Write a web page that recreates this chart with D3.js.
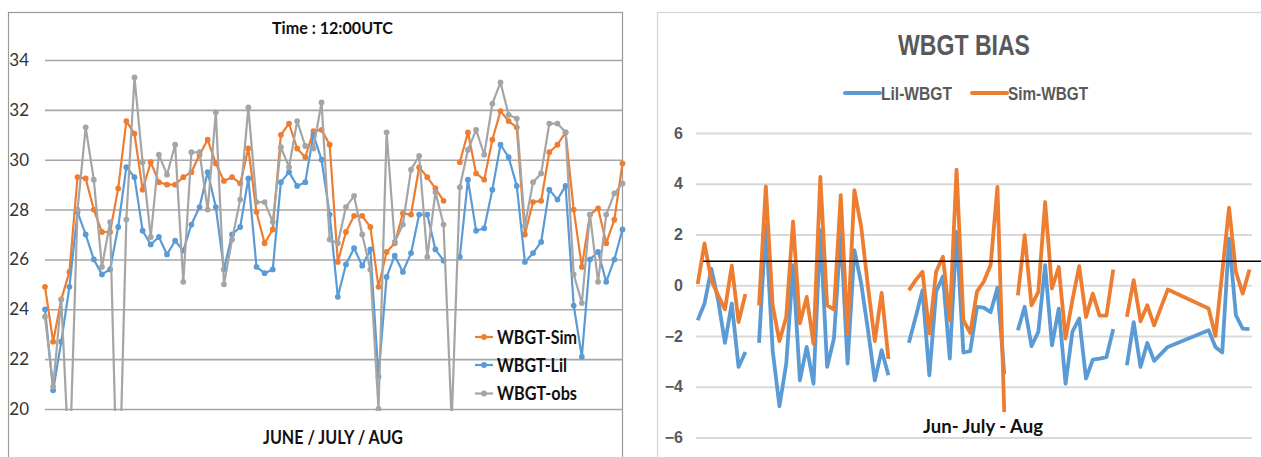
<!doctype html>
<html>
<head>
<meta charset="utf-8">
<script src="https://d3js.org/d3.v7.min.js"></script>
<style>
  body { margin: 0; background: #fff; }
  svg { display: block; }
</style>
</head>
<body>
<svg width="1261" height="457"></svg>
<script>
// ---- left chart: WBGT at 12:00UTC, one value per day ----
var simWbgt = [24.9, 22.7, 24.4, 25.5, 29.3, 29.25, 28.0, 27.1, 27.1, 28.85,
               31.55, 31.05, 28.8, 29.9, 29.1, 29.0, 29.0, 29.3, 29.5, 30.2,
               30.8, 29.85, 29.15, 29.3, 29.05, 30.45, 27.9, 26.65, 27.2, 31.0,
               31.45, 30.45, 30.1, 31.15, 31.2, 30.6, 25.9, 27.1, 27.75, 27.75,
               27.3, 24.9, 26.3, 26.65, 27.85, 27.8, 29.7, 29.3, 28.85, 28.35,
               null, 29.9, 31.1, 29.45, 29.2, 30.8, 31.95, 31.55, 31.3, 27.0,
               28.3, 28.35, 30.3, 30.6, 31.1, 28.0, 25.7, 27.8, 28.05, 26.65,
               27.6, 29.85];
var lilWbgt = [24.0, 20.75, 22.7, 24.9, 27.9, 27.0, 26.0, 25.4, 25.6, 27.3,
               29.7, 29.3, 27.15, 26.6, 26.9, 26.2, 26.75, 26.35, 27.4, 28.1,
               29.5, 28.1, 25.6, 27.0, 27.3, 29.25, 25.7, 25.45, 25.6, 29.1,
               29.5, 28.95, 29.1, 31.0, 30.0, 27.8, 24.5, 25.8, 26.45, 25.75,
               26.4, 21.3, 25.3, 26.15, 25.5, 26.25, 27.8, 27.8, 26.4, 25.95,
               null, 26.1, 29.2, 27.15, 27.25, 28.8, 30.6, 30.1, 28.95, 25.9,
               26.25, 26.7, 28.8, 28.4, 28.95, 24.15, 22.1, 26.0, 26.3, 25.1,
               26.0, 27.2];
var obsWbgt = [23.7, 20.9, 24.4, 17.5, 28.0, 31.3, 29.2, 25.7, 27.5, 15.0,
               27.6, 33.3, 29.9, 26.9, 30.2, 29.4, 30.6, 25.1, 30.3, 30.3,
               28.0, 31.9, 25.0, 26.8, 28.4, 32.1, 28.3, 28.3, 27.5, 30.5,
               29.7, 31.55, 30.55, 30.45, 32.3, 26.8, 26.65, 28.1, 28.55, 27.0,
               25.6, 20.0, 31.1, 26.7, 27.4, 29.6, 30.15, 26.1, 28.7, 27.4,
               19.5, 28.9, 30.4, 31.2, 30.2, 32.25, 33.1, 31.8, 31.65, 27.35,
               29.1, 29.45, 31.45, 31.45, 31.1, 25.4, 24.25, 27.8, 25.1, 27.8,
               28.65, 29.05];
var wbgtTicks = [20, 22, 24, 26, 28, 30, 32, 34];
var wbgtNames = ["WBGT-Sim", "WBGT-Lil", "WBGT-obs"];

// ---- right chart: WBGT bias ----
var biasDay = [0, 1, 2, 3, 4, 5, 6, 7, 8, 9, 10, 11, 12, 13, 14, 15, 16, 17, 18, 19,
               20, 21, 22, 23, 24, 25, 26, 27, 28, 29, 30, 31, 32, 33, 34, 35, 36, 37, 38, 39,
               40, 41, 42, 43, 44, 45, 46, 47, 48, 49, 50, 51, 52, 53, 54, 55, 56, 57, 58, 59,
               60, 61, 62, 63, 64, 65, 66, 67, 69, 75, 76, 77, 78, 79, 80, 81];
var lilBias = [-1.38, -0.72, 0.65, -0.59, -2.27, -0.72, -3.22, -2.63, null, -2.27,
               2.37, -2.56, -4.77, -3.09, 0.79, -3.75, -2.43, -3.88, 2.17, -3.22,
               -2.1, 2.1, -3.09, 1.38, 0.07, -1.77, -3.75, -2.56, -3.55, null,
               null, -2.27, -1.25, -0.2, -3.55, -0.26, 0.35, -2.89, 2.1, -2.65,
               -2.6, -0.85, -0.88, -1.06, -0.1, -3.5, null, -1.77, -0.85, -2.4,
               -1.84, 0.79, -2.37, -0.92, -3.88, -1.84, -1.31, -3.68, -2.93, -2.89,
               -2.83, -1.73, null, -3.15, -1.45, -3.22, -2.27, -2.98, -2.43, -1.77,
               -2.43, -2.65, 1.84, -1.18, -1.71, -1.73];
var simBias = [0.05, 1.65, 0.2, -0.4, -0.95, 0.77, -1.45, -0.35, null, -0.79,
               3.9, -0.79, -2.2, -1.25, 2.52, -1.5, -0.46, -2.3, 4.27, -0.79,
               -0.96, 3.55, -1.9, 3.75, 2.3, -0.07, -2.2, -0.3, -2.9, null,
               null, -0.2, 0.2, 0.53, -1.9, 0.53, 1.12, -1.38, 4.56, -1.38,
               -1.88, -0.25, 0.15, 0.8, 3.88, -5.0, null, -0.4, 1.97, -0.79,
               -0.26, 3.28, -0.13, 0.72, -2.1, -0.59, 0.75, -1.25, -0.33, -1.2,
               -1.2, 0.62, null, -1.25, 0.2, -1.42, -0.79, -1.58, -0.17, -0.92,
               -2.0, 0.5, 3.06, 0.53, -0.33, 0.62];
var biasTicks = [-6, -4, -2, 0, 2, 4, 6];
var biasNames = ["Lil-WBGT", "Sim-WBGT"];
var biasRef = 0.95;

var blue = "#5b9bd5", orange = "#ed7d31", grey = "#a5a5a5";
var svg = d3.select("svg");

function fitText(sel, w) {
    sel.attr("textLength", w).attr("lengthAdjust", "spacingAndGlyphs");
}

// ================= LEFT =================
var xL = d3.scaleLinear().domain([0, simWbgt.length - 1]).range([45, 622.5]),
    yL = d3.scaleLinear().domain([20, 34]).range([409, 60]);

svg.append("rect")
   .attr("x", 8.5).attr("y", 12.5).attr("width", 614).attr("height", 470)
   .attr("fill", "none").attr("stroke", "#9a9a9a").attr("stroke-width", 1.2);

svg.append("defs").append("clipPath").attr("id", "clipL")
   .append("rect").attr("x", 40).attr("y", 20).attr("width", 590).attr("height", 391);

var gAxL = svg.append("g")
    .attr("transform", "translate(45,0)")
    .call(d3.axisLeft(yL).tickValues(wbgtTicks).tickSize(-577).tickPadding(16));
gAxL.select(".domain").remove();
gAxL.selectAll("line").attr("stroke", "#a6a6a6").attr("stroke-width", 1.6);
gAxL.selectAll("text")
    .attr("fill", "#333").style("font-family", "Lato, 'Open Sans', sans-serif")
    .style("font-size", "17px");

var lineL = d3.line()
    .defined(function(d) { return d != null; })
    .x(function(d, i) { return xL(i); })
    .y(function(d) { return yL(d); });

var plotL = svg.append("g").attr("clip-path", "url(#clipL)");
[[simWbgt, orange], [lilWbgt, blue], [obsWbgt, grey]].forEach(function(s) {
    plotL.append("path")
        .datum(s[0])
        .attr("fill", "none")
        .attr("stroke", s[1])
        .attr("stroke-width", 2.2)
        .attr("stroke-linejoin", "round")
        .attr("d", lineL);
    plotL.selectAll(null)
        .data(s[0].map(function(v, i) { return {v: v, i: i}; })
                  .filter(function(d) { return d.v != null; }))
        .enter().append("circle")
        .attr("cx", function(d) { return xL(d.i); })
        .attr("cy", function(d) { return yL(d.v); })
        .attr("r", 2.9)
        .attr("fill", s[1]);
});

svg.append("text")
   .attr("x", 272).attr("y", 33.5)
   .style("font-family", "Lato, 'Open Sans', sans-serif")
   .style("font-size", "17px").style("font-weight", "bold")
   .attr("fill", "#111")
   .text("Time : 12:00UTC")
   .call(fitText, 121);

svg.append("text")
   .attr("x", 263).attr("y", 443.5)
   .style("font-family", "Lato, 'Open Sans', sans-serif")
   .style("font-size", "18px").style("font-weight", "bold")
   .attr("fill", "#111")
   .text("JUNE / JULY / AUG")
   .call(fitText, 140);

var legL = svg.append("g");
[[orange, 337, 80], [blue, 365, 70], [grey, 393.5, 80]].forEach(function(e, k) {
    legL.append("line")
        .attr("x1", 475).attr("x2", 493).attr("y1", e[1]).attr("y2", e[1])
        .attr("stroke", e[0]).attr("stroke-width", 2.2);
    legL.append("circle").attr("cx", 484).attr("cy", e[1]).attr("r", 2.9).attr("fill", e[0]);
    legL.append("text")
        .attr("x", 497).attr("y", e[1] + 6.8)
        .style("font-family", "Lato, 'Open Sans', sans-serif")
        .style("font-size", "18px").style("font-weight", "bold")
        .attr("fill", "#111")
        .text(wbgtNames[k])
        .call(fitText, e[2]);
});

// ================= RIGHT =================
var xR = d3.scaleLinear().domain([0, 81]).range([697.7, 1249.5]),
    yR = d3.scaleLinear().domain([-6, 6]).range([437.5, 133]);

svg.append("rect")
   .attr("x", 657.5).attr("y", 12.5).attr("width", 620).attr("height", 470)
   .attr("fill", "none").attr("stroke", "#d6d6d6").attr("stroke-width", 1.2);

var gAxR = svg.append("g")
    .attr("transform", "translate(696,0)")
    .call(d3.axisLeft(yR).tickValues(biasTicks).tickSize(-556).tickPadding(13));
gAxR.select(".domain").remove();
gAxR.selectAll("line").attr("stroke", "#d9d9d9").attr("stroke-width", 2);
gAxR.selectAll("text")
    .attr("fill", "#595959").style("font-family", "'Liberation Sans', Arial, sans-serif")
    .style("font-size", "16px").style("font-weight", "bold");

var lineR = d3.line()
    .defined(function(d) { return d.v != null; })
    .x(function(d) { return xR(d.day); })
    .y(function(d) { return yR(d.v); });

[[lilBias, blue], [simBias, orange]].forEach(function(s) {
    svg.append("path")
        .datum(biasDay.map(function(day, i) { return {day: day, v: s[0][i]}; }))
        .attr("fill", "none")
        .attr("stroke", s[1])
        .attr("stroke-width", 3.8)
        .attr("stroke-linejoin", "round")
        .attr("d", lineR);
});

svg.append("line")
   .attr("x1", xR(0.8)).attr("x2", 1261)
   .attr("y1", yR(biasRef)).attr("y2", yR(biasRef))
   .attr("stroke", "#000").attr("stroke-width", 1.5);

svg.append("text")
   .attr("x", 898).attr("y", 55)
   .style("font-family", "'Liberation Sans', Arial, sans-serif")
   .style("font-size", "30px").style("font-weight", "bold")
   .attr("fill", "#595959")
   .text("WBGT BIAS")
   .call(fitText, 132);

var legR = svg.append("g");
[[blue, 845, 71], [orange, 972, 80]].forEach(function(e, k) {
    legR.append("line")
        .attr("x1", e[1]).attr("x2", e[1] + 35).attr("y1", 93).attr("y2", 93)
        .attr("stroke", e[0]).attr("stroke-width", 4).attr("stroke-linecap", "round");
    legR.append("text")
        .attr("x", e[1] + 36).attr("y", 99.5)
        .style("font-family", "'Liberation Sans', Arial, sans-serif")
        .style("font-size", "18px").style("font-weight", "bold")
        .attr("fill", "#595959")
        .text(biasNames[k])
        .call(fitText, e[2]);
});

svg.append("text")
   .attr("x", 923).attr("y", 433)
   .style("font-family", "Lato, 'Open Sans', sans-serif")
   .style("font-size", "19px").style("font-weight", "bold")
   .attr("fill", "#111")
   .text("Jun- July - Aug")
   .call(fitText, 120);
</script>
</body>
</html>
